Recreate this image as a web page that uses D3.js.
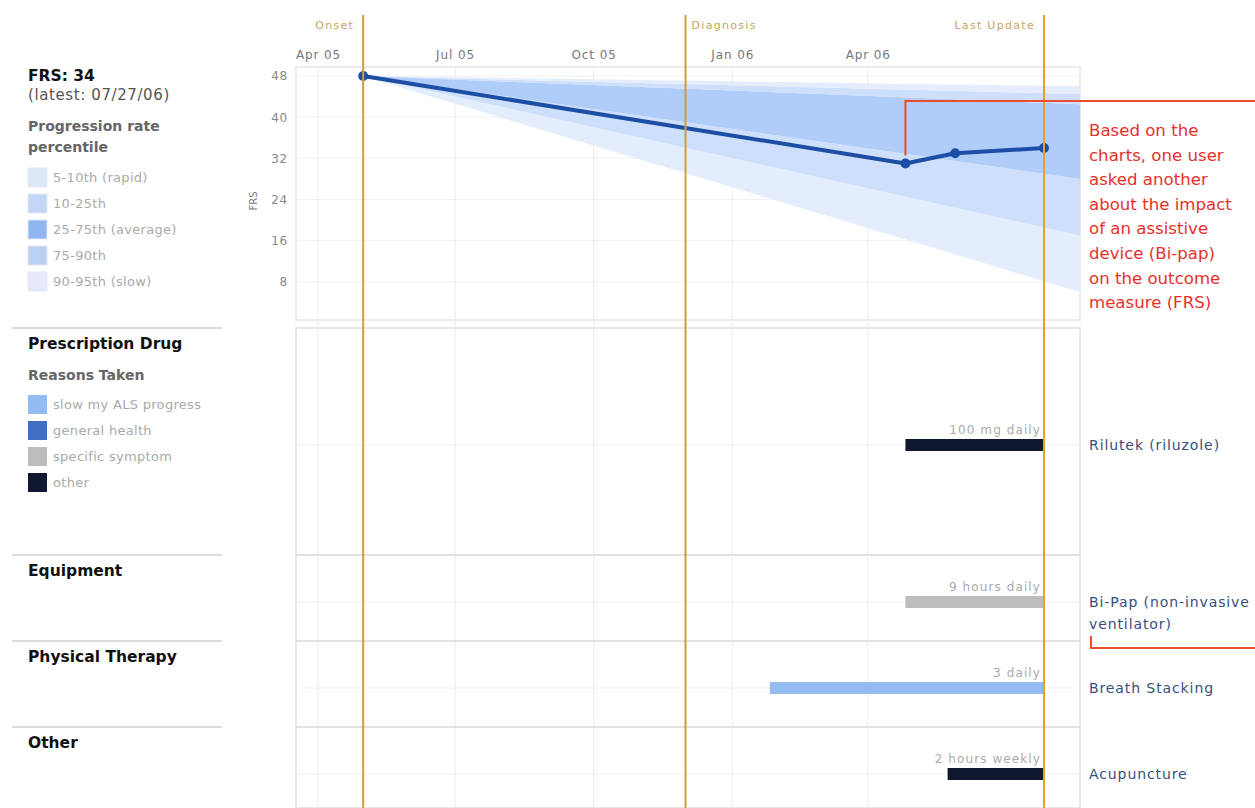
<!DOCTYPE html>
<html>
<head>
<meta charset="utf-8">
<script src="https://cdn.jsdelivr.net/npm/d3@7/dist/d3.min.js"></script>
<style>
  body { margin: 0; background: #fff; }
  svg { display: block; }
  text { font-family: "DejaVu Sans", Verdana, sans-serif; }
</style>
</head>
<body>
<svg id="chart" width="1255" height="808"></svg>
<script>
// FRS measurements
const frsDates = ['2005-05-01', '2006-04-26', '2006-05-29', '2006-07-27'];
const frsValues = [48, 31, 33, 34];

// progression rate percentiles, from onset to the right edge of the chart
const pctDates = ['2005-05-01', '2006-08-20'];
const p5 = [48, 6];
const p10 = [48, 17];
const p25 = [48, 28];
const p75 = [48, 42.5];
const p90 = [48, 44.5];
const p95 = [48, 46];

const bandLabels = ['5-10th (rapid)', '10-25th', '25-75th (average)', '75-90th', '90-95th (slow)'];
const bandColors = ['#e1ecfc', '#c9dcfa', '#a9c8f7', '#c9dcfa', '#e3ebfc'];
const legendBandColors = ['#dce8f8', '#c2d7f5', '#8fb6f1', '#b9d0f3', '#e5e9fb'];

const eventNames = ['Onset', 'Diagnosis', 'Last Update'];
const eventDates = ['2005-05-01', '2005-12-01', '2006-07-27'];

const xTickDates = ['2005-04-01', '2005-07-01', '2005-10-01', '2006-01-01', '2006-04-01'];
const yTicks = [8, 16, 24, 32, 40, 48];

const categories = ['Prescription Drug', 'Equipment', 'Physical Therapy', 'Other'];
const treatments = ['Rilutek (riluzole)', 'Bi-Pap (non-invasive|ventilator)', 'Breath Stacking', 'Acupuncture'];
const treatmentCategory = ['Prescription Drug', 'Equipment', 'Physical Therapy', 'Other'];
const treatmentStart = ['2006-04-26', '2006-04-26', '2006-01-26', '2006-05-24'];
const treatmentEnd = ['2006-07-27', '2006-07-27', '2006-07-27', '2006-07-27'];
const treatmentDose = ['100 mg daily', '9 hours daily', '3 daily', '2 hours weekly'];
const treatmentReason = ['other', 'specific symptom', 'slow my ALS progress', 'other'];

const reasons = ['slow my ALS progress', 'general health', 'specific symptom', 'other'];
const reasonColors = ['#93bcf3', '#3f6fc2', '#bdbdbd', '#101830'];

const annotation = ['Based on the', 'charts, one user', 'asked another', 'about the impact',
  'of an assistive', 'device (Bi-pap)', 'on the outcome', 'measure (FRS)'];

// ---- layout ----
const parse = d3.timeParse('%Y-%m-%d');
const left = 296, right = 1080;
const topY = 67, topBottom = 320;
const panelTops = [328, 555, 641, 727];
const panelBottoms = [555, 641, 727, 808];
const rowOffset = [117, 47, 47, 47];

const svg = d3.select('#chart');

const x = d3.scaleTime()
  .domain([parse('2005-04-01'), parse('2006-07-27')])
  .range([318, 1044]);
const y = d3.scaleLinear().domain([0, 48]).range([323, 76]);
const reasonColor = d3.scaleOrdinal().domain(reasons).range(reasonColors);

// ---- top panel frame and grid ----
svg.append('rect')
  .attr('x', left).attr('y', topY)
  .attr('width', right - left).attr('height', topBottom - topY)
  .attr('fill', '#fff').attr('stroke', '#e6e6e6').attr('stroke-width', 1.5);

const grid = svg.append('g').attr('stroke', '#f0f0f0').attr('stroke-width', 1);
grid.selectAll('line.yg').data(yTicks).join('line')
  .attr('x1', left).attr('x2', right)
  .attr('y1', d => y(d)).attr('y2', d => y(d));

// vertical gridlines (all panels), under the bands
svg.append('g').selectAll('line').data(xTickDates.map(parse)).join('line')
  .attr('x1', d => x(d)).attr('x2', d => x(d))
  .attr('y1', topY).attr('y2', 808)
  .attr('stroke', '#ececec').attr('stroke-width', 1);

// ---- percentile bands ----
const pct = [p5, p10, p25, p75, p90, p95];
const pDates = pctDates.map(parse);
const area = d3.area()
  .x(d => x(d.date))
  .y0(d => y(d.lo))
  .y1(d => y(d.hi));

const bandsG = svg.append('g');
bandColors.forEach((c, i) => {
  const pts = pDates.map((dt, j) => ({ date: dt, lo: pct[i][j], hi: pct[i + 1][j] }));
  bandsG.append('path').attr('d', area(pts)).attr('fill', c).attr('fill-opacity', 0.92);
});

// ---- axes ----
const xAxis = d3.axisTop(x)
  .tickValues(xTickDates.map(parse))
  .tickFormat(d3.timeFormat('%b %y'))
  .tickSize(0).tickPadding(0);
svg.append('g')
  .attr('transform', 'translate(0,59)')
  .call(xAxis)
  .call(g => g.select('.domain').remove())
  .call(g => g.selectAll('text').attr('fill', '#777').attr('font-size', 12).attr('letter-spacing', 0.9));

const yAxis = d3.axisLeft(y).tickValues(yTicks).tickSize(0).tickPadding(0);
svg.append('g')
  .attr('transform', 'translate(288,0)')
  .call(yAxis)
  .call(g => g.select('.domain').remove())
  .call(g => g.selectAll('text').attr('fill', '#888').attr('font-size', 12).attr('letter-spacing', 0.8));

svg.append('text')
  .attr('transform', 'translate(257,201) rotate(-90)')
  .attr('text-anchor', 'middle')
  .attr('font-size', 10).attr('fill', '#777')
  .text('FRS');

// ---- lower panels ----
categories.forEach((cat, i) => {
  svg.append('rect')
    .attr('x', left).attr('y', panelTops[i])
    .attr('width', right - left).attr('height', panelBottoms[i] - panelTops[i])
    .attr('fill', 'none').attr('stroke', '#e0e0e0').attr('stroke-width', 1.5);
  svg.append('line')
    .attr('x1', 12).attr('x2', 222)
    .attr('y1', panelTops[i]).attr('y2', panelTops[i])
    .attr('stroke', '#dcdcdc').attr('stroke-width', 2);
  svg.append('line')
    .attr('x1', left).attr('x2', right)
    .attr('y1', panelTops[i] + rowOffset[i]).attr('y2', panelTops[i] + rowOffset[i])
    .attr('stroke', '#eeeeee');
  svg.append('text')
    .attr('x', 28).attr('y', panelTops[i] + 21)
    .attr('font-size', 15.5).attr('font-weight', 'bold').attr('fill', '#111')
    .text(cat);
});

// treatment bars
const rowY = i => {
  const c = categories.indexOf(treatmentCategory[i]);
  return panelTops[c] + rowOffset[c];
};
treatments.forEach((name, i) => {
  const x0 = x(parse(treatmentStart[i])), x1 = x(parse(treatmentEnd[i]));
  const cy = rowY(i);
  svg.append('rect')
    .attr('x', x0).attr('y', cy - 6)
    .attr('width', x1 - x0).attr('height', 12)
    .attr('fill', reasonColor(treatmentReason[i]));
  svg.append('text')
    .attr('x', x1 - 3).attr('y', cy - 11)
    .attr('text-anchor', 'end')
    .attr('font-size', 12).attr('fill', '#aaa').attr('letter-spacing', 1.1)
    .text(treatmentDose[i]);
  const lines = name.split('|');
  const t = svg.append('text')
    .attr('x', 1089).attr('y', cy + 5)
    .attr('font-size', 14).attr('fill', '#35507e').attr('letter-spacing', 0.9);
  lines.forEach((l, k) => t.append('tspan').attr('x', 1089).attr('dy', k ? 22 : 0).text(l));
});

// ---- FRS line ----
const frs = frsDates.map((d, i) => ({ date: parse(d), v: frsValues[i] }));
svg.append('path')
  .datum(frs)
  .attr('fill', 'none')
  .attr('stroke', '#1d4ea6').attr('stroke-width', 4)
  .attr('stroke-linejoin', 'round')
  .attr('d', d3.line().x(d => x(d.date)).y(d => y(d.v)));
svg.append('g').selectAll('circle').data(frs).join('circle')
  .attr('cx', d => x(d.date)).attr('cy', d => y(d.v))
  .attr('r', 5).attr('fill', '#1d4ea6');

// ---- event lines ----
eventNames.forEach((name, i) => {
  const ex = x(parse(eventDates[i]));
  const last = i === eventNames.length - 1;
  svg.append('line')
    .attr('x1', ex).attr('x2', ex).attr('y1', 15).attr('y2', 808)
    .attr('stroke', last ? '#e7a127' : '#c9a03a').attr('stroke-width', 2);
  const anchorEnd = i !== 1;
  svg.append('text')
    .attr('x', anchorEnd ? ex - 9 : ex + 6).attr('y', 29)
    .attr('text-anchor', anchorEnd ? 'end' : 'start')
    .attr('font-size', 11).attr('fill', '#c8a563').attr('letter-spacing', 1.3)
    .text(name);
});

// ---- left legend ----
const lastIdx = frsValues.length - 1;
svg.append('text').attr('x', 28).attr('y', 81)
  .attr('font-size', 15.5).attr('font-weight', 'bold').attr('fill', '#111')
  .text('FRS: ' + frsValues[lastIdx]);
svg.append('text').attr('x', 28).attr('y', 100)
  .attr('font-size', 15).attr('fill', '#555').attr('letter-spacing', 0.6)
  .text('(latest: ' + d3.timeFormat('%m/%d/%y')(parse(frsDates[lastIdx])) + ')');
svg.append('text').attr('x', 28).attr('y', 131)
  .attr('font-size', 14).attr('font-weight', 'bold').attr('fill', '#666')
  .text('Progression rate');
svg.append('text').attr('x', 28).attr('y', 152)
  .attr('font-size', 14).attr('font-weight', 'bold').attr('fill', '#666')
  .text('percentile');

bandLabels.forEach((lab, i) => {
  const ly = 168 + i * 26;
  svg.append('rect').attr('x', 28).attr('y', ly)
    .attr('width', 19).attr('height', 19)
    .attr('fill', legendBandColors[i]).attr('stroke', '#e4e8ee');
  svg.append('text').attr('x', 53).attr('y', ly + 14)
    .attr('font-size', 13).attr('fill', '#aaa').attr('letter-spacing', 0.3).text(lab);
});

svg.append('text').attr('x', 28).attr('y', 380)
  .attr('font-size', 14).attr('font-weight', 'bold').attr('fill', '#666')
  .text('Reasons Taken');
reasons.forEach((r, i) => {
  const ly = 395 + i * 26;
  svg.append('rect').attr('x', 28).attr('y', ly)
    .attr('width', 19).attr('height', 19)
    .attr('fill', reasonColor(r));
  svg.append('text').attr('x', 53).attr('y', ly + 14)
    .attr('font-size', 13).attr('fill', '#aaa').attr('letter-spacing', 0.3).text(r);
});

// ---- annotation ----
const red = '#ea4e2f';
const ax = x(parse(frsDates[1]));
svg.append('path')
  .attr('d', `M${ax},${y(frsValues[1]) - 8}V101H1255`)
  .attr('fill', 'none').attr('stroke', red).attr('stroke-width', 2);
svg.append('path')
  .attr('d', 'M1091,636V648H1255')
  .attr('fill', 'none').attr('stroke', red).attr('stroke-width', 2);
const note = svg.append('text')
  .attr('x', 1089).attr('y', 136)
  .attr('font-family', '"Open Sans", sans-serif')
  .attr('font-size', 16.6).attr('fill', '#e8302a');
annotation.forEach((l, k) => note.append('tspan').attr('x', 1089).attr('dy', k ? 24.6 : 0).text(l));
</script>
</body>
</html>
